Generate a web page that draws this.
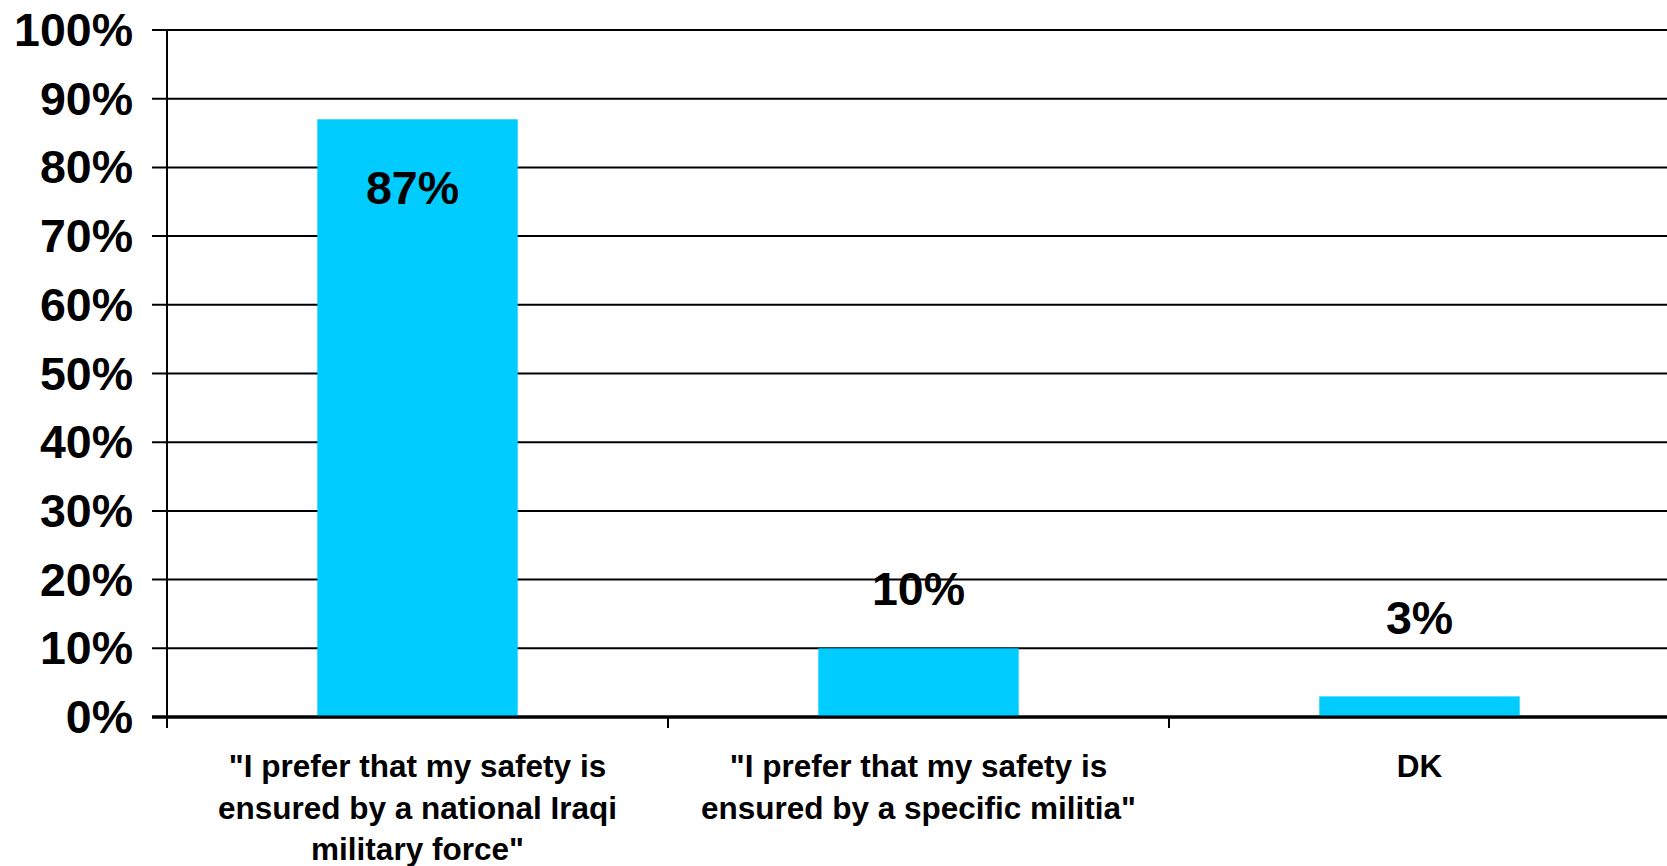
<!DOCTYPE html>
<html>
<head>
<meta charset="utf-8">
<script src="https://cdn.jsdelivr.net/npm/d3@7"></script>
<style>
  body { margin: 0; background: #fff; }
  svg { display: block; font-family: 'Liberation Sans', Arial, sans-serif; }
</style>
</head>
<body>
<div id="chart"></div>
<script>
const categories = [
  ['"I prefer that my safety is', 'ensured by a national Iraqi', 'military force"'],
  ['"I prefer that my safety is', 'ensured by a specific militia"'],
  ['DK']
];
const values = [87, 10, 3];
const valueLabels = ['87%', '10%', '3%'];
const yTicks = [0, 10, 20, 30, 40, 50, 60, 70, 80, 90, 100];

const width = 1667;
const height = 866;
const margin = { top: 30, right: -3, bottom: 149, left: 167 };

const svg = d3
  .select('#chart')
  .append('svg')
  .attr('width', width)
  .attr('height', height);

const x = d3
  .scaleBand()
  .domain(d3.range(values.length))
  .range([margin.left, width - margin.right])
  .paddingInner(0.6)
  .paddingOuter(0.3);

const y = d3
  .scaleLinear()
  .domain([0, 100])
  .range([height - margin.bottom, margin.top]);

// gridlines with ticks to the left of the axis
svg
  .append('g')
  .selectAll('line')
  .data(yTicks)
  .enter()
  .append('line')
  .attr('x1', margin.left - 15)
  .attr('x2', width)
  .attr('y1', d => y(d))
  .attr('y2', d => y(d))
  .attr('stroke', '#000')
  .attr('stroke-width', d => (d === 0 ? 3 : 2));

svg
  .append('g')
  .selectAll('text')
  .data(yTicks)
  .enter()
  .append('text')
  .text(d => d + '%')
  .attr('x', 133)
  .attr('y', d => y(d) + 16)
  .attr('text-anchor', 'end')
  .style('font-size', '46.5px')
  .style('font-weight', 'bold');

// bars
svg
  .append('g')
  .selectAll('rect')
  .data(values)
  .enter()
  .append('rect')
  .attr('x', (d, i) => x(i))
  .attr('width', x.bandwidth())
  .attr('y', d => y(d))
  .attr('height', d => y(0) - y(d))
  .attr('fill', '#00CCFF');

// axes on top of bars
svg
  .append('line')
  .attr('x1', margin.left)
  .attr('x2', margin.left)
  .attr('y1', y(100))
  .attr('y2', y(0) + 11)
  .attr('stroke', '#000')
  .attr('stroke-width', 2);

svg
  .append('line')
  .attr('x1', margin.left - 15)
  .attr('x2', width)
  .attr('y1', y(0))
  .attr('y2', y(0))
  .attr('stroke', '#000')
  .attr('stroke-width', 3);

const step = x.step();
svg
  .append('g')
  .selectAll('line')
  .data(d3.range(1, values.length))
  .enter()
  .append('line')
  .attr('x1', i => x(i) - x.paddingInner() * step / 2)
  .attr('x2', i => x(i) - x.paddingInner() * step / 2)
  .attr('y1', y(0))
  .attr('y2', y(0) + 11)
  .attr('stroke', '#000')
  .attr('stroke-width', 2);

// value labels: inside for tall bars, above for short ones
const labelDy = [85, -43, -62];
svg
  .append('g')
  .selectAll('text')
  .data(values)
  .enter()
  .append('text')
  .text((d, i) => valueLabels[i])
  .attr('x', (d, i) => x(i) + x.bandwidth() / 2 - (i === 0 ? 5 : 0))
  .attr('y', (d, i) => y(d) + labelDy[i])
  .attr('text-anchor', 'middle')
  .style('font-size', '46.5px')
  .style('font-weight', 'bold');

// category labels
const cat = svg
  .append('g')
  .selectAll('text')
  .data(categories)
  .enter()
  .append('text')
  .attr('text-anchor', 'middle')
  .style('font-size', '31.5px')
  .style('font-weight', 'bold');

cat
  .selectAll('tspan')
  .data((d, i) => d.map(line => ({ line, i })))
  .enter()
  .append('tspan')
  .attr('x', d => x(d.i) + x.bandwidth() / 2)
  .attr('y', (d, j) => 777 + j * 41.5)
  .text(d => d.line);
</script>
</body>
</html>
